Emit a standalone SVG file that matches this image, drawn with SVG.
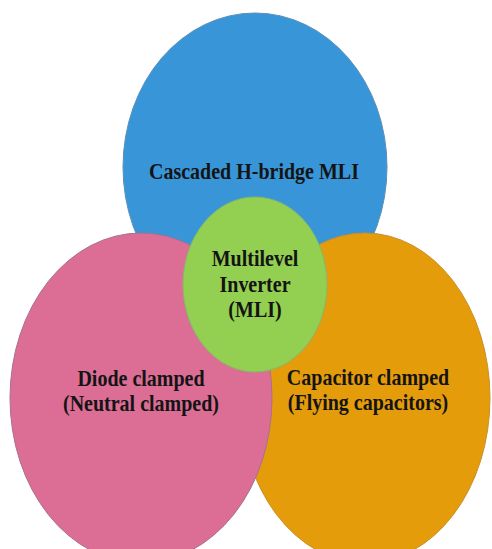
<svg xmlns="http://www.w3.org/2000/svg" width="492" height="549" viewBox="0 0 492 549">
  <style>
    .lbl { font-family: "Liberation Serif", "Times New Roman", serif; font-weight: bold; font-size: 20px; text-anchor: middle; fill: #141414; }
    .shape { stroke-width: 1; }
  </style>
  <rect x="0" y="0" width="492" height="549" fill="#ffffff"/>
  <g id="node-cascaded">
    <ellipse class="shape" cx="255" cy="167" rx="132" ry="154" fill="#3896d8" stroke="#5a8fb8"/>
    <text class="lbl" transform="translate(254 179) scale(1 1.15)">Cascaded H-bridge MLI</text>
  </g>
  <g id="node-capacitor">
    <ellipse class="shape" cx="365" cy="398" rx="125" ry="165" fill="#e49c0b" stroke="#c98f2a"/>
    <text class="lbl" transform="translate(368 385) scale(1 1.15)">Capacitor clamped</text>
    <text class="lbl" transform="translate(368 410) scale(1 1.15)">(Flying capacitors)</text>
  </g>
  <g id="node-diode">
    <ellipse class="shape" cx="141" cy="398" rx="131" ry="165" fill="#dc6e96" stroke="#a8708e"/>
    <text class="lbl" transform="translate(141 386) scale(1 1.15)">Diode clamped</text>
    <text class="lbl" transform="translate(141 411) scale(1 1.15)">(Neutral clamped)</text>
  </g>
  <g id="node-mli">
    <ellipse class="shape" cx="255" cy="284.5" rx="72" ry="87.5" fill="#93cf50" stroke="#86b86a"/>
    <text class="lbl" transform="translate(255 266) scale(1 1.15)">Multilevel</text>
    <text class="lbl" transform="translate(255 292) scale(1 1.15)">Inverter</text>
    <text class="lbl" transform="translate(255 317) scale(1 1.15)">(MLI)</text>
  </g>
  <g id="connectors"/>
</svg>
